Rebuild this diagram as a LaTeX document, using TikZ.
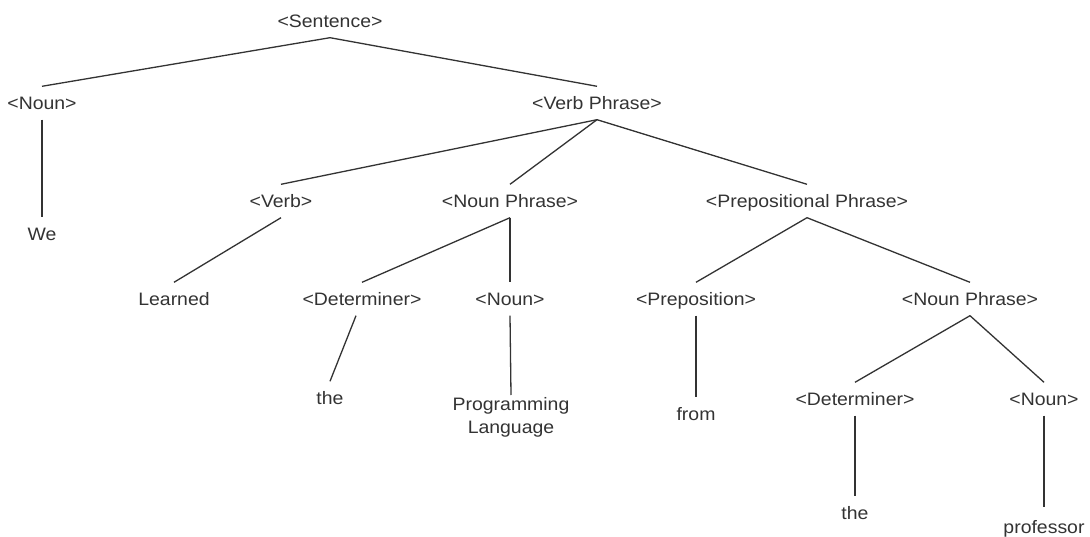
\documentclass[tikz,border=0pt]{standalone}
\usepackage{fontspec}
\setmainfont[FakeStretch=1.08]{Liberation Sans}
\usetikzlibrary{calc}
\definecolor{inkc}{HTML}{333333}
\begin{document}
\begin{tikzpicture}[x=1pt,y=-1pt,
  lbl/.style={inner sep=0pt, minimum height=33pt, text height=12.5pt, text depth=0pt,
    font=\fontsize{18}{23}\selectfont, text=inkc},
  multi/.style={inner xsep=0pt, inner ysep=2pt, align=center,
    font=\fontsize{18}{23}\selectfont, text=inkc},
  edge/.style={draw=inkc, line width=1.3pt}]
\useasboundingbox[fill=white] (0,0) rectangle (1090,537);
% nodes
\node[lbl] (S)    at (330,21)  {<Sentence>};
\node[lbl] (N1)   at (42,103)  {<Noun>};
\node[lbl] (We)   at (42,234)  {We};
\node[lbl] (VP)   at (597,103) {<Verb Phrase>};
\node[lbl] (V)    at (281,201) {<Verb>};
\node[lbl] (NP)   at (510,201) {<Noun Phrase>};
\node[lbl] (PP)   at (807,201) {<Prepositional Phrase>};
\node[lbl] (L)    at (174,299) {Learned};
\node[lbl] (D1)   at (362,299) {<Determiner>};
\node[lbl] (N2)   at (510,299) {<Noun>};
\node[lbl] (T1)   at (330,398) {the};
\node[multi, anchor=north] (PL) at (511,395) {Programming\\Language};
\node[lbl] (Pr)   at (696,299) {<Preposition>};
\node[lbl] (Fr)   at (696,414) {from};
\node[lbl] (NP2)  at (970,299) {<Noun Phrase>};
\node[lbl] (D2)   at (855,399) {<Determiner>};
\node[lbl] (N3)   at (1044,399) {<Noun>};
\node[lbl] (T2)   at (855,513) {the};
\node[lbl] (Pf)   at (1044,527) {professor};
% connectors
\draw[edge] (S.south) -- (N1.north);
\draw[edge] (S.south) -- (VP.north);
\draw[edge] (N1.south) -- (We.north);
\draw[edge] (VP.south) -- (V.north);
\draw[edge] (VP.south) -- (NP.north);
\draw[edge] (VP.south) -- (PP.north);
\draw[edge] (V.south) -- (L.north);
\draw[edge] (NP.south) -- (D1.north);
\draw[edge] (NP.south) -- (N2.north);
\draw[edge] ($(D1.south)+(-6,0)$) -- (T1.north);
\draw[edge] (N2.south) -- (PL.north);
\draw[edge] (PP.south) -- (Pr.north);
\draw[edge] (PP.south) -- (NP2.north);
\draw[edge] (Pr.south) -- (Fr.north);
\draw[edge] (NP2.south) -- (D2.north);
\draw[edge] (NP2.south) -- (N3.north);
\draw[edge] (D2.south) -- (T2.north);
\draw[edge] ($(N3.south)$) -- ($(Pf.north)+(0,-3)$);
\end{tikzpicture}
\end{document}
